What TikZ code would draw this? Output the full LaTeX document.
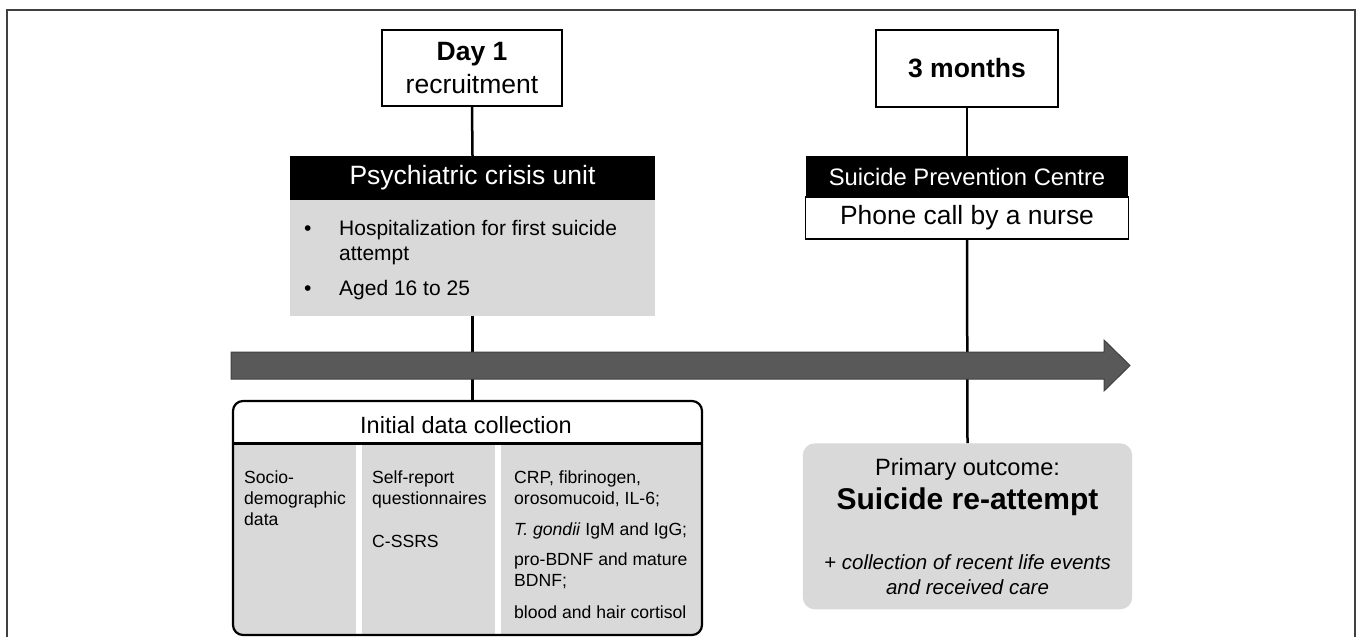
\documentclass[tikz,border=0pt]{standalone}
\usepackage{fontspec}
\setmainfont{Liberation Sans}
\newcommand\fsz[2]{\fontsize{#1}{#2}\selectfont}
\definecolor{lightg}{HTML}{D9D9D9}
\definecolor{arrowg}{HTML}{595959}
\definecolor{arrowe}{HTML}{404040}
\begin{document}
\begin{tikzpicture}[x=1pt,y=-1pt,
  timebox/.style={draw=black, line width=2pt, fill=white, inner sep=0pt, align=center},
  hdr/.style={fill=black, text=white, inner sep=0pt},
  graybox/.style={fill=lightg, inner sep=0pt},
  txt/.style={inner sep=0pt, anchor=base west, align=left},
  ctxt/.style={inner sep=0pt, anchor=base, align=center},
  conn/.style={line width=2.5pt, black}]
\clip (0,0) rectangle (1357,637);
\draw[line width=1.5pt, arrowe] (7,10) rectangle (1355,700);

% --- top boxes
\node[timebox, minimum width=180pt, minimum height=76pt, font=\fsz{26.5}{33.3}] (day1) at (472,68) {{\bfseries Day 1}\\recruitment};
\node[timebox, minimum width=182pt, minimum height=77pt, font=\fsz{26.5}{32}\bfseries] (months) at (967,68) {3 months};

% --- crisis unit
\node[hdr, minimum width=365pt, minimum height=44pt, font=\fsz{26.5}{32}] (crisishdr) at (472.5,178) {Psychiatric crisis unit};
\node[graybox, minimum width=365pt, minimum height=116pt] (crisisbody) at (472.5,258) {};
\node[txt, font=\fsz{21}{26}] (bul1) at (304,235) {•};
\node[txt, font=\fsz{21}{25}] (item1) at (339,260) {Hospitalization for first suicide\\attempt};
\node[txt, font=\fsz{21}{26}] (bul2) at (304,295) {•};
\node[txt, font=\fsz{21}{26}] (item2) at (339,295) {Aged 16 to 25};

% --- suicide prevention centre
\node[hdr, minimum width=322.6pt, minimum height=41pt, font=\fsz{23.8}{28}] (spchdr) at (967,176.5) {Suicide Prevention Centre};
\node[draw=black, line width=1.5pt, fill=white, inner sep=0pt, minimum width=322.6pt, minimum height=42pt, font=\fsz{26.4}{30}] (phone) at (967,218) {Phone call by a nurse};

% --- outcome
\node[graybox, rounded corners=12pt, minimum width=329.4pt, minimum height=166pt] (outcome) at (967.5,526.3) {};
\node[ctxt, font=\fsz{23.6}{28}] (prim) at (967.5,475) {Primary outcome:};
\node[ctxt, font=\fsz{30}{34}\bfseries] (reatt) at (967.5,509.3) {Suicide re-attempt};
\node[ctxt, font=\fsz{20.5}{24.7}\itshape] (collect) at (967.5,594) {+ collection of recent life events\\and received care};

% --- data collection box
\begin{scope}
  \clip[rounded corners=10pt] (233,401) rectangle (702,635);
  \fill[lightg] (233,443) rectangle (356,640);
  \fill[lightg] (362,443) rectangle (495,640);
  \fill[lightg] (501,443) rectangle (702,640);
\end{scope}
\node[draw=black, line width=2.2pt, rounded corners=10pt, inner sep=0pt, minimum width=469pt, minimum height=234pt] (data) at (467.5,518) {};
\draw[line width=3pt] (data.west |- 0,443) -- (data.east |- 0,443);
\node[ctxt, font=\fsz{23.5}{28}] (datatitle) at (466,433.7) {Initial data collection};
\node[txt, font=\fsz{17.6}{21.3}] (col1) at (244,525.6) {Socio-\\demographic\\data};
\node[txt, font=\fsz{17.6}{21.3}] (col2a) at (372,504.3) {Self-report\\questionnaires};
\node[txt, font=\fsz{17.6}{21.3}] (col2b) at (372,547) {C-SSRS};
\node[txt, font=\fsz{17.6}{21.3}] (col3a) at (514,504.3) {CRP, fibrinogen,\\orosomucoid, IL-6;};
\node[txt, font=\fsz{17.6}{21.3}] (col3b) at (514,535.3) {\textit{T. gondii} IgM and IgG;};
\node[txt, font=\fsz{17.6}{21.3}] (col3c) at (514,586.9) {pro-BDNF and mature\\BDNF;};
\node[txt, font=\fsz{17.6}{21.3}] (col3d) at (514,618.6) {blood and hair cortisol};

% --- connectors
\draw[conn] (day1.south) -- (crisishdr.north);
\draw[conn] (crisisbody.south) -- (crisisbody.south |- data.north);
\draw[conn] (months.south) -- (spchdr.north);
\draw[conn] (phone.south) -- (outcome.north);

% --- time arrow
\draw[fill=arrowg, draw=arrowe, line width=1pt, line join=miter]
  (231,352) -- (1104,352) -- (1104,340) -- (1130,365.5) -- (1104,391) -- (1104,379) -- (231,379) -- cycle;
\end{tikzpicture}
\end{document}
